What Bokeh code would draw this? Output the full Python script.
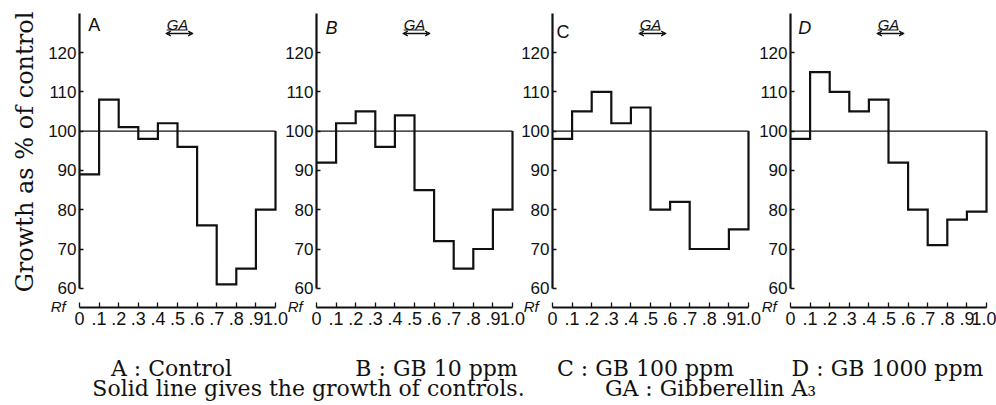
import math
from bokeh.plotting import figure
from bokeh.models import Range1d, LinearAxis, FixedTicker, Arrow, VeeHead
from bokeh.core.properties import value
from bokeh.embed import file_html
from bokeh.resources import INLINE

# ---------------- data ----------------
RF_EDGES = [0.0, 0.1, 0.2, 0.3, 0.4, 0.5, 0.6, 0.7, 0.8, 0.9, 1.0]
X_TICK_LABELS = ["0", ".1", ".2", ".3", ".4", ".5", ".6", ".7", ".8", ".9", "1.0"]
Y_TICKS = [60, 70, 80, 90, 100, 110, 120]
Y_AXIS_TOP = 130
CONTROL = 100

PANELS = ["A", "B", "C", "D"]
A_VALUES = [89, 108, 101, 98, 102, 96, 76, 61, 65, 80]
B_VALUES = [92, 102, 105, 96, 104, 85, 72, 65, 70, 80]
C_VALUES = [98, 105, 110, 102, 106, 80, 82, 70, 70, 75]
D_VALUES = [98, 115, 110, 105, 108, 92, 80, 71, 77.5, 79.5]
SERIES = [A_VALUES, B_VALUES, C_VALUES, D_VALUES]

GA_LABEL = "GA"
GA_SPAN = [0.44, 0.58]
RF_LABEL = "Rf"
Y_TITLE = "Growth as % of control"
CAPTION_LINE1 = ["A : Control", "B : GB 10 ppm", "C : GB 100 ppm", "D : GB 1000 ppm"]
CAPTION_LINE2 = ["Solid line gives the growth of controls.", "GA : Gibberellin A\u2083"]

# ---------------- layout (pixels) ----------------
W, H = 996, 405
PX_PER_RF = 196.0
PX_PER_UNIT = 3.93
PIX_Y130 = 12.7
AXIS_PIX_X = [79, 316, 552, 790]


def yval(pix):
    return Y_AXIS_TOP - (pix - PIX_Y130) / PX_PER_UNIT


Y_TOP = yval(0)
Y_BOT = yval(H)
XAXIS_LOC = yval(307)

p = figure(width=W, height=H, title=None,
           x_range=Range1d(0, W), y_range=Range1d(Y_BOT, Y_TOP),
           x_axis_type=None, y_axis_type=None, min_border=0,
           toolbar_location=None, output_backend="svg",
           outline_line_color=None, background_fill_color="white",
           border_fill_color="white")
p.extra_x_ranges = {name: Range1d(-xp / PX_PER_RF, (W - xp) / PX_PER_RF)
                    for name, xp in zip(PANELS, AXIS_PIX_X)}
p.extra_y_ranges = {"py": Range1d(0, H)}

INK = "#111111"
LETTER_X = [0.045, 0.046, 0.02, 0.04]
LETTER_TOP_PIX = [14, 17, 21, 17]
LETTER_STYLE = ["normal", "italic", "normal", "italic"]

for name, vals, lx, ltop, lstyle in zip(PANELS, SERIES, LETTER_X, LETTER_TOP_PIX, LETTER_STYLE):
    # control line
    p.line(x=[RF_EDGES[0], RF_EDGES[-1]], y=[CONTROL, CONTROL], x_range_name=name,
           line_color=INK, line_width=1.1)
    # step histogram, closing up to the control level at Rf 1.0
    p.step(x=RF_EDGES, y=list(vals) + [CONTROL], mode="after", x_range_name=name,
           line_color=INK, line_width=2.2, line_join="miter")

    xa = LinearAxis(x_range_name=name, fixed_location=XAXIS_LOC, bounds=(0, 1),
                    ticker=FixedTicker(ticks=RF_EDGES, minor_ticks=[]),
                    major_label_overrides=dict(zip(RF_EDGES, X_TICK_LABELS)),
                    axis_line_width=2, axis_line_color=INK,
                    major_tick_in=5, major_tick_out=0, major_tick_line_width=1.3,
                    major_tick_line_color=INK,
                    minor_tick_in=0, minor_tick_out=0,
                    major_label_standoff=4,
                    major_label_text_font="Liberation Sans",
                    major_label_text_font_size="18px",
                    major_label_text_color=INK)
    p.add_layout(xa, "below")

    ya = LinearAxis(x_range_name=name, fixed_location=0, bounds=(Y_TICKS[0], Y_AXIS_TOP),
                    ticker=FixedTicker(ticks=Y_TICKS, minor_ticks=[]),
                    axis_line_width=2.2, axis_line_color=INK,
                    major_tick_in=4, major_tick_out=0, major_tick_line_width=1.3,
                    major_tick_line_color=INK,
                    minor_tick_in=0, minor_tick_out=0,
                    major_label_standoff=3,
                    major_label_text_font="Liberation Sans",
                    major_label_text_font_size="17px",
                    major_label_text_color=INK)
    p.add_layout(ya, "left")

    # panel letter
    p.text(x=[lx], y=[yval(ltop)], text=[name], x_range_name=name,
           text_font=value("Liberation Sans"), text_font_style=lstyle,
           text_font_size="18px", text_color=INK,
           text_align="left", text_baseline="top")
    # GA marker: label, underline, double arrow
    p.text(x=[sum(GA_SPAN) / 2 - 0.01], y=[yval(15)], text=[GA_LABEL], x_range_name=name,
           text_font=value("Liberation Sans"), text_font_style="italic",
           text_font_size="15px", text_color=INK,
           text_align="center", text_baseline="top")
    p.line(x=[GA_SPAN[0] + 0.005, GA_SPAN[1] - 0.03], y=[yval(29.5)] * 2, x_range_name=name,
           line_color=INK, line_width=1.1)
    p.add_layout(Arrow(x_start=GA_SPAN[0], y_start=yval(33), x_end=GA_SPAN[1], y_end=yval(33),
                       x_range_name=name, line_color=INK, line_width=1.3,
                       start=VeeHead(size=5, line_color=INK, fill_color=INK, line_width=1),
                       end=VeeHead(size=5, line_color=INK, fill_color=INK, line_width=1)))
    # Rf label
    p.text(x=[-0.07], y=[yval(306)], text=[RF_LABEL], x_range_name=name,
           text_font=value("Liberation Sans"), text_font_style="italic",
           text_font_size="15px", text_color=INK,
           text_align="right", text_baseline="alphabetic")

# y title
p.text(x=[24], y=[yval(151.5)], text=[Y_TITLE], angle=math.pi / 2,
       text_font=value("DejaVu Serif"), text_font_size="24px", text_color=INK,
       text_align="center", text_baseline="middle")

# captions
CAP1_X = [171, 436, 645, 887]
CAP2_X = [308, 710]
p.text(x=CAP1_X, y=[H - 368] * len(CAPTION_LINE1), text=CAPTION_LINE1, y_range_name="py",
       text_font=value("DejaVu Serif"), text_font_size="22px", text_color=INK,
       text_align="center", text_baseline="alphabetic")
p.text(x=CAP2_X, y=[H - 388] * len(CAPTION_LINE2), text=CAPTION_LINE2, y_range_name="py",
       text_font=value("DejaVu Serif"), text_font_size="22px", text_color=INK,
       text_align="center", text_baseline="alphabetic")

open("out.html", "w").write(file_html(p, INLINE))
